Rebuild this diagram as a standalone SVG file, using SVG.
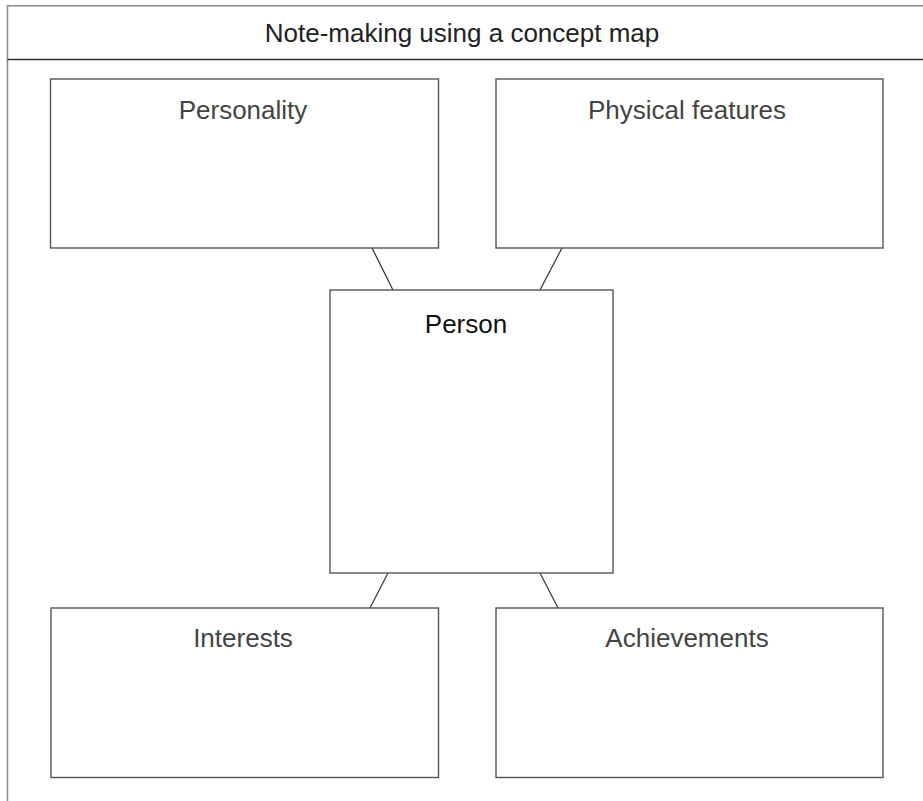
<svg xmlns="http://www.w3.org/2000/svg" width="923" height="801" viewBox="0 0 923 801">
<style>
.frame{fill:none;stroke:#8a8a8a;stroke-width:1.5}
.sep{stroke:#333;stroke-width:1.5}
.box{fill:#fff;stroke:#555;stroke-width:1.4}
.lbl{font-family:"Liberation Sans",Arial,sans-serif;font-size:26px;fill:#444;text-anchor:middle}
.ttl{font-family:"Liberation Sans",Arial,sans-serif;font-size:26px;fill:#222;text-anchor:middle}
.conn{stroke:#333;stroke-width:1.2;fill:none}
</style>
<rect width="923" height="801" fill="#fff"/>
<g id="frame">
<path class="frame" d="M923 5.7 H7.5 V801"/>
<line class="sep" x1="7.5" y1="59.5" x2="923" y2="59.5"/>
<text class="ttl" x="462" y="42">Note-making using a concept map</text>
</g>
<g id="connectors">
<line class="conn" x1="372" y1="248" x2="393" y2="290"/>
<line class="conn" x1="562" y1="248" x2="540" y2="290"/>
<line class="conn" x1="388" y1="573" x2="370" y2="608"/>
<line class="conn" x1="540" y1="573" x2="558" y2="608"/>
</g>
<g id="personality">
<rect class="box" x="50.5" y="79" width="388" height="169"/>
<text class="lbl" x="243" y="119">Personality</text>
</g>
<g id="physical-features">
<rect class="box" x="496" y="79" width="387" height="169"/>
<text class="lbl" x="687" y="119">Physical features</text>
</g>
<g id="person">
<rect class="box" x="330" y="290" width="283" height="283"/>
<text class="lbl" x="466" y="333" style="fill:#111">Person</text>
</g>
<g id="interests">
<rect class="box" x="51" y="608" width="387.5" height="169.5"/>
<text class="lbl" x="243" y="647">Interests</text>
</g>
<g id="achievements">
<rect class="box" x="496" y="608" width="387" height="169.5"/>
<text class="lbl" x="687" y="647">Achievements</text>
</g>
</svg>
